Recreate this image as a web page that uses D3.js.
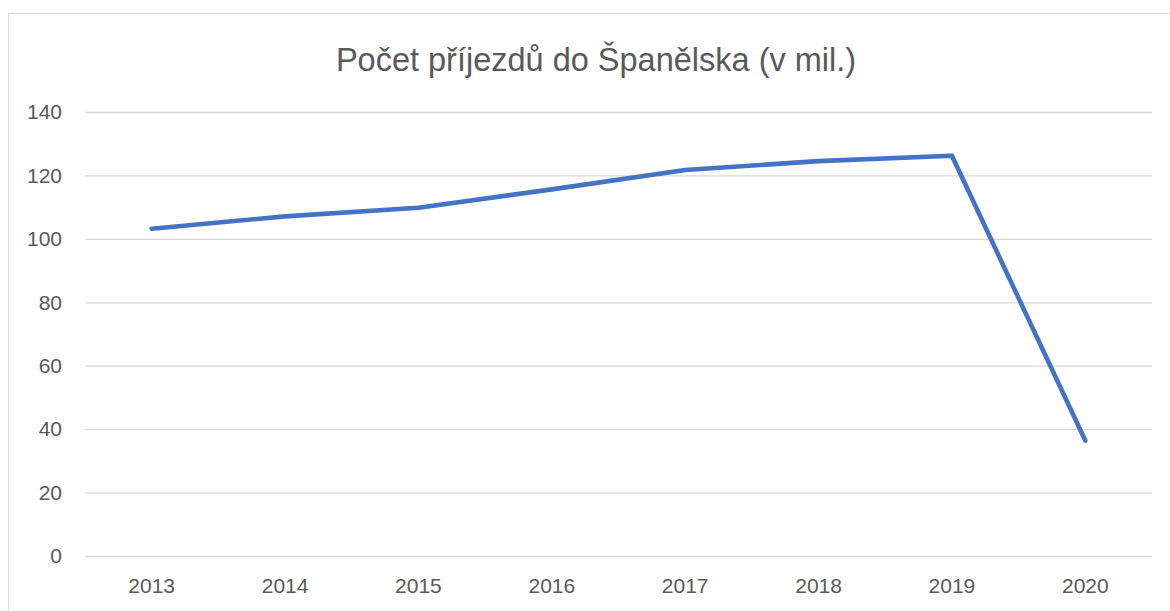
<!DOCTYPE html>
<html>
<head>
<meta charset="utf-8">
<script src="https://cdn.jsdelivr.net/npm/d3@7"></script>
<style>
  body { margin: 0; background: #fff; }
  text { font-family: "Liberation Sans", Arial, sans-serif; fill: #595959; }
</style>
</head>
<body>
<div id="graphic"></div>
<script>
(function(d3){

    // Chart data
    let title = 'Počet příjezdů do Španělska (v mil.)';
    let years = ['2013', '2014', '2015', '2016', '2017', '2018', '2019', '2020'];
    let arrivals = [103.2, 107.1, 109.8, 115.6, 121.7, 124.5, 126.2, 36.4];
    let yTicks = [0, 20, 40, 60, 80, 100, 120, 140];

    // Canvas size
    let width = 1170, height = 611;

    // Plot area
    let left = 85, right = 1152, top = 112, bottom = 556;

    let svg = d3.select('#graphic')
                .append('svg')
                .attr('width', width)
                .attr('height', height);

    // Chart frame (runs off the right and bottom edges)
    svg.append('rect')
       .attr('x', 8.5)
       .attr('y', 13.5)
       .attr('width', 1200)
       .attr('height', 700)
       .attr('fill', '#fff')
       .attr('stroke', '#d9d9d9')
       .attr('stroke-width', 1);

    let x = d3.scaleBand()
        .domain(years)
        .range([left, right]);

    let y = d3.scaleLinear()
        .domain([0, 140])
        .range([bottom, top]);

    // Gridlines + y labels
    let yAxis = svg.append('g')
        .attr('transform', `translate(${left},0)`)
        .call(d3.axisLeft(y).tickValues(yTicks).tickSize(-(right - left)).tickPadding(23));

    yAxis.select('.domain').remove();
    yAxis.selectAll('line').attr('stroke', '#d9d9d9').attr('stroke-width', 1.3);
    yAxis.selectAll('text')
         .attr('fill', '#595959')
         .style('font-size', '21px')
         .style('font-family', '"Liberation Sans", Arial, sans-serif');

    // Category labels
    let xAxis = svg.append('g')
        .attr('transform', `translate(0,${bottom})`)
        .call(d3.axisBottom(x).tickSize(0).tickPadding(22));

    xAxis.select('.domain').remove();
    xAxis.selectAll('text')
         .attr('fill', '#595959')
         .style('font-size', '21px')
         .style('font-family', '"Liberation Sans", Arial, sans-serif');

    // Series line
    let line = d3.line()
        .x((d, i) => x(years[i]) + x.bandwidth() / 2)
        .y(d => y(d));

    svg.append('path')
       .datum(arrivals)
       .attr('d', line)
       .attr('fill', 'none')
       .attr('stroke', '#4472c4')
       .attr('stroke-width', 4.6)
       .attr('stroke-linejoin', 'round')
       .attr('stroke-linecap', 'round');

    // Title
    svg.append('text')
       .attr('x', 596)
       .attr('y', 71)
       .attr('text-anchor', 'middle')
       .style('font-size', '32.5px')
       .text(title);

})(window.d3);
</script>
</body>
</html>
